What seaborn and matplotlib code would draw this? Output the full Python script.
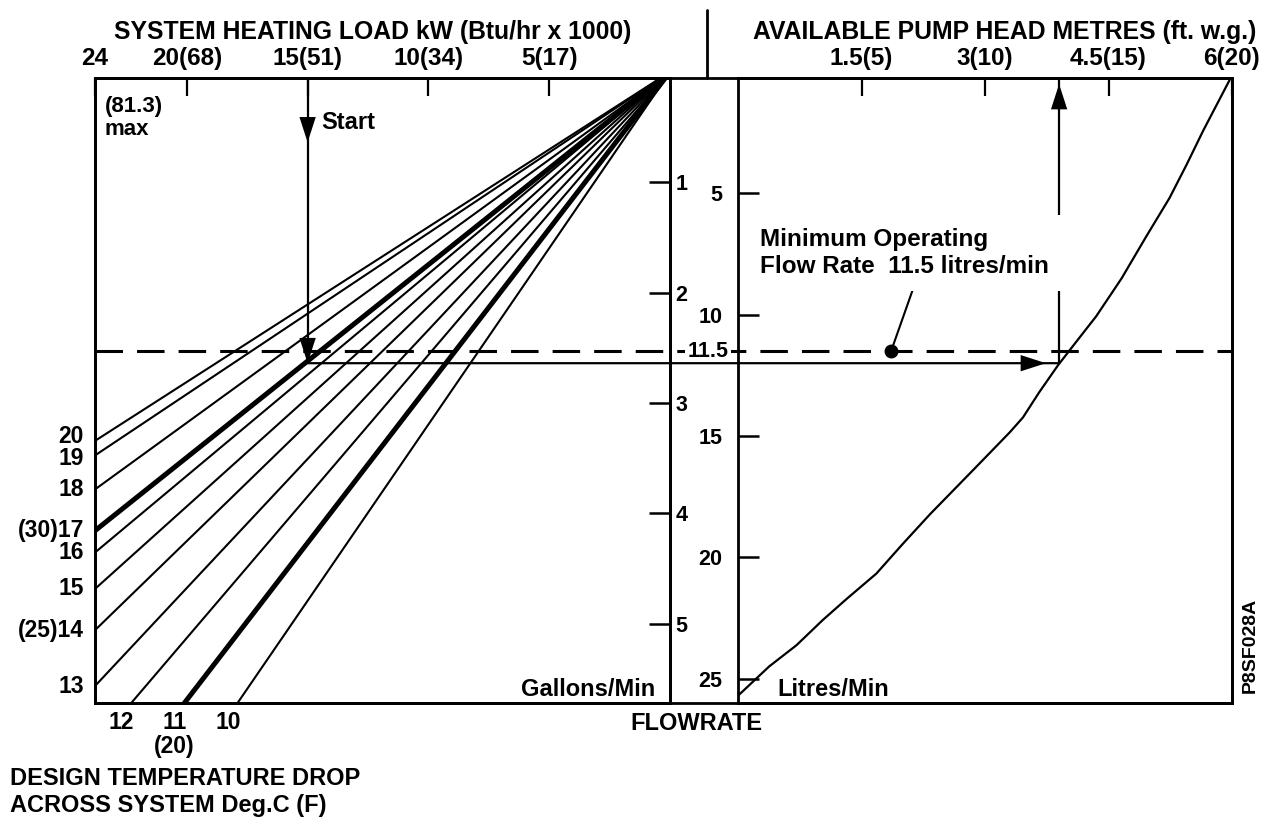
import matplotlib
matplotlib.use('Agg')
import matplotlib.pyplot as plt
import pandas as pd
import seaborn as sns
from matplotlib.lines import Line2D
from matplotlib.patches import ConnectionPatch
from matplotlib import font_manager

# temperature drop lines: each runs from the zero corner to where it leaves the panel
dt_values = [20, 19, 18, 17, 16, 15, 14, 13, 12, 11, 10]
dt_labels = ['20', '19', '18', '(30)17', '16', '15', '(25)14', '13', '12', '11\n(20)', '10']
exit_load = [23.8, 23.8, 23.8, 23.8, 23.8, 23.8, 23.8, 23.8, 22.3, 20.1, 17.9]   # kW
exit_flow = [15.2, 15.8, 17.2, 18.9, 19.8, 21.3, 23.0, 25.3, 26.0, 26.0, 26.0]   # litres/min
bold_dt = [17, 11]

load_ticks = [23.8, 20, 15, 10, 5]
load_labels = ['24', '20(68)', '15(51)', '10(34)', '5(17)']
head_ticks = [1.5, 3, 4.5, 6]
head_labels = ['1.5(5)', '3(10)', '4.5(15)', '6(20)']
litre_ticks = [5, 10, 15, 20, 25]
gallon_ticks = [1, 2, 3, 4, 5]

# available pump head (metres) against flow (litres/min)
pump_head = [5.97, 5.81, 5.65, 5.45, 5.24, 4.96, 4.66, 4.35, 4.11, 3.89, 3.66, 3.46, 3.30,
             2.98, 2.73, 2.33, 2.00, 1.68, 1.32, 1.03, 0.71, 0.38, 0.0]
pump_flow = [0.34, 1.38, 2.42, 3.81, 5.20, 6.77, 8.50, 10.07, 11.11, 12.07, 13.19, 14.24, 14.85,
             15.97, 16.84, 18.23, 19.45, 20.67, 21.71, 22.58, 23.62, 24.49, 25.70]

min_flow = 11.5
min_flow_head = 1.86
note_head, note_flow = 2.13, 8.9   # leader line start
start_load = 15
op_flow = 12.0
op_head = 3.9

UK_GAL = 4.546
LOAD_MAX = 23.8
FLOW_LIM = (26.0, 0.25)
HEAD_LIM = (0, 6)

sns.set_theme(style='white', rc={'axes.edgecolor': 'black', 'axes.linewidth': 2.0,
                                 'xtick.color': 'black', 'ytick.color': 'black',
                                 'text.color': 'black'})
plt.rcParams['font.family'] = ['Liberation Sans', 'DejaVu Sans']
plt.rcParams['font.weight'] = 'bold'
names = {f.name for f in font_manager.fontManager.ttflist}
narrow = 'Liberation Sans Narrow' if 'Liberation Sans Narrow' in names else 'Liberation Sans'

FW, FH = 1279, 825
TOP, BOTTOM = 78, 703


def rect(x0, x1):
    return [x0 / FW, 1 - BOTTOM / FH, (x1 - x0) / FW, (BOTTOM - TOP) / FH]


fig = plt.figure(figsize=(FW / 100, FH / 100), dpi=100)
fig.patch.set_facecolor('white')

ax_bg = fig.add_axes(rect(95, 1232))
ax_bg.set_xticks([])
ax_bg.set_yticks([])
ax_bg.set_ylim(*FLOW_LIM)
ax_l = fig.add_axes(rect(95, 670))
ax_r = fig.add_axes(rect(738, 1232))
for ax in (ax_l, ax_r):
    ax.set_facecolor('none')

# minimum flow dashed line across both panels
ax_bg.axhline(min_flow, color='black', lw=2.2, dashes=(9, 4.6))

# --- left panel: heating load vs flow for each temperature drop
rows = []
for dt, ld, fl in zip(dt_values, exit_load, exit_flow):
    w = 'bold' if dt in bold_dt else 'thin'
    rows.append({'dt': dt, 'load': 0.0, 'flow': 0.0, 'weight': w})
    rows.append({'dt': dt, 'load': ld, 'flow': fl, 'weight': w})
fan = pd.DataFrame(rows)
sns.lineplot(data=fan, x='load', y='flow', units='dt', estimator=None, size='weight',
             sizes={'thin': 1.5, 'bold': 3.6}, color='black', legend=False, sort=False, ax=ax_l)
ax_l.set_xlim(LOAD_MAX, 0)
ax_l.set_ylim(*FLOW_LIM)
ax_l.set_xlabel('')
ax_l.set_ylabel('')
ax_l.xaxis.tick_top()
ax_l.set_xticks(load_ticks, load_labels)
ax_l.tick_params(axis='x', direction='in', length=13, width=1.6, pad=6, labelsize=17.5)
ax_l.tick_params(axis='y', left=False, labelleft=False)

nudge = {20: 3, 19: -2}
for dt, lab, ld, fl in zip(dt_values, dt_labels, exit_load, exit_flow):
    if ld >= LOAD_MAX:
        ax_l.annotate(lab, xy=(ld, fl), xytext=(-8, nudge.get(dt, 0)), textcoords='offset points',
                      ha='right', va='center', fontsize=16.5, annotation_clip=False)
    else:
        ax_l.annotate(lab, xy=(ld, fl), xytext=(-7, -6), textcoords='offset points',
                      ha='center', va='top', fontsize=16.5, linespacing=1.05,
                      annotation_clip=False)

gal = ax_l.secondary_yaxis('right', functions=(lambda q: q / UK_GAL, lambda g: g * UK_GAL))
gal.set_yticks(gallon_ticks)
gal.tick_params(direction='in', length=15, width=1.8, pad=4, labelsize=15.5)

ax_l.text(0.017, 0.936, '(81.3)\nmax', transform=ax_l.transAxes, ha='left', va='center',
          fontsize=16, linespacing=1.1)
ax_l.text(0.975, 0.021, 'Gallons/Min', transform=ax_l.transAxes, ha='right', va='center',
          fontsize=17)

# start route
ax_l.plot([start_load, start_load], [0, op_flow], color='black', lw=1.6)
ax_l.annotate('Start', xy=(start_load, 2.1), xytext=(10, 0), textcoords='offset points',
              ha='left', va='center', fontsize=17)


def arrow(ax, tip, tail):
    ax.annotate('', xy=tip, xytext=tail,
                arrowprops=dict(arrowstyle='-|>,head_length=1.3,head_width=0.42',
                                mutation_scale=14, lw=0, color='black',
                                shrinkA=0, shrinkB=0))


arrow(ax_l, (start_load, 2.9), (start_load, 1.0))
arrow(ax_l, (start_load, op_flow), (start_load, op_flow - 1.6))

# --- right panel: pump head curve
sns.lineplot(x=pump_head, y=pump_flow, sort=False, estimator=None, color='black', lw=1.6, ax=ax_r)
ax_r.set_xlim(*HEAD_LIM)
ax_r.set_ylim(*FLOW_LIM)
ax_r.set_xlabel('')
ax_r.set_ylabel('')
ax_r.xaxis.tick_top()
ax_r.set_xticks(head_ticks, head_labels)
ax_r.tick_params(axis='x', direction='in', length=13, width=1.6, pad=6, labelsize=17.5)
ax_r.set_yticks(litre_ticks)
ax_r.tick_params(axis='y', left=True, labelleft=True, direction='in', length=15, width=1.8,
                 pad=11, labelsize=15.5)

ax_r.annotate('11.5', xy=(0, min_flow), xycoords=ax_r.get_yaxis_transform(),
              xytext=(-7, 0), textcoords='offset points', ha='right', va='center',
              fontsize=15.5, annotation_clip=False,
              bbox=dict(boxstyle='square,pad=0.12', fc='white', ec='none'))

ax_r.plot([op_head, op_head], [op_flow, 0], color='black', lw=1.6)
arrow(ax_r, (op_head, 0.5), (op_head, 1.9))
arrow(ax_r, (op_head - 0.16, op_flow), (op_head - 0.7, op_flow))

ax_r.plot([note_head, min_flow_head], [note_flow, min_flow], color='black', lw=1.5)
ax_r.plot([min_flow_head], [min_flow], marker='o', ms=9, color='black')
ax_r.text(0.045, 0.72, 'Minimum Operating\nFlow Rate  11.5 litres/min', transform=ax_r.transAxes,
          ha='left', va='center', fontsize=17.5, linespacing=1.2, zorder=5,
          bbox=dict(boxstyle='square,pad=0.53', fc='white', ec='none'))
ax_r.text(0.079, 0.021, 'Litres/Min', transform=ax_r.transAxes, ha='left', va='center',
          fontsize=17)

# operating flow line joining the two panels
fig.add_artist(ConnectionPatch(xyA=(start_load, op_flow), coordsA=ax_l.transData,
                               xyB=(op_head, op_flow), coordsB=ax_r.transData,
                               color='black', lw=1.6))

# headings and notes
fig.text(373 / FW, 1 - 32 / FH, 'SYSTEM HEATING LOAD kW (Btu/hr x 1000)', ha='center',
         va='center', fontsize=17.8)
fig.text(1005 / FW, 1 - 32 / FH, 'AVAILABLE PUMP HEAD METRES (ft. w.g.)', ha='center',
         va='center', fontsize=17.8)
fig.add_artist(Line2D([707 / FW, 707 / FW], [1 - 10 / FH, 1 - TOP / FH], color='black', lw=2.0))
fig.text(696 / FW, 1 - 724 / FH, 'FLOWRATE', ha='center', va='center', fontsize=17)
fig.text(10 / FW, 1 - 792 / FH, 'DESIGN TEMPERATURE DROP\nACROSS SYSTEM Deg.C (F)', ha='left',
         va='center', fontsize=17, linespacing=1.2)
fig.text(1250 / FW, 1 - 645 / FH, 'P8SF028A', rotation=90, ha='center', va='center',
         fontsize=14, family=[narrow, 'DejaVu Sans'])

fig.savefig('out.png', dpi=100, facecolor='white')
